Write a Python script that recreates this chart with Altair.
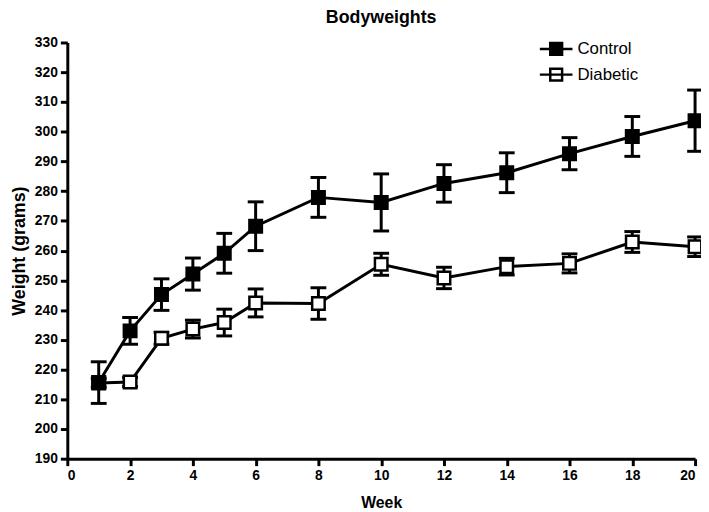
import altair as alt
import pandas as pd

weeks = [1, 2, 3, 4, 5, 6, 8, 10, 12, 14, 16, 18, 20]
control = [215.6, 233.0, 245.2, 252.1, 259.1, 268.2, 277.9, 276.2, 282.6, 286.2, 292.6, 298.4, 303.7]
control_err = [7.0, 4.5, 5.3, 5.4, 6.7, 8.2, 6.7, 9.6, 6.3, 6.7, 5.4, 6.7, 10.3]
diabetic = [215.5, 215.8, 230.5, 233.6, 235.8, 242.4, 242.2, 255.4, 250.8, 254.6, 255.7, 262.9, 261.3]
diabetic_err = [1.5, 1.5, 2.0, 3.0, 4.5, 4.7, 5.3, 3.7, 3.6, 2.8, 3.2, 3.5, 3.3]
groups = ["Control", "Diabetic"]
x_ticks = list(range(0, 21, 2))
y_ticks = list(range(190, 331, 10))

rows = []
for g, vals, errs in [("Diabetic", diabetic, diabetic_err), ("Control", control, control_err)]:
    for w, v, e in zip(weeks, vals, errs):
        rows.append({"week": w, "weight": v, "lo": v - e, "hi": v + e, "group": g})
df = pd.DataFrame(rows)

FONT = "Liberation Sans"

x_scale = alt.Scale(domain=[0, 20], nice=False)
y_scale = alt.Scale(domain=[190, 330], nice=False, zero=False)
x_axis = alt.Axis(values=x_ticks, labelOverlap=False)
y_axis = alt.Axis(values=y_ticks, labelOverlap=False)

x = alt.X("week:Q", title="Week", scale=x_scale, axis=x_axis)
y = alt.Y("weight:Q", title="Weight (grams)", scale=y_scale, axis=y_axis)
y_lo = alt.Y("lo:Q", title="Weight (grams)", scale=y_scale, axis=y_axis)
y_hi = alt.Y("hi:Q", title="Weight (grams)", scale=y_scale, axis=y_axis)

base = alt.Chart(df)

line = base.mark_line(color="black", strokeWidth=3).encode(x=x, y=y, detail="group:N")
rule = base.mark_rule(color="black", strokeWidth=3, opacity=1).encode(x=x, y=y_lo, y2="hi:Q")
cap_lo = base.mark_tick(orient="horizontal", size=16, thickness=3, color="black", opacity=1).encode(x=x, y=y_lo)
cap_hi = base.mark_tick(orient="horizontal", size=16, thickness=3, color="black", opacity=1).encode(x=x, y=y_hi)

symbol_path = "M-1.65,0H1.65M-0.6,-0.6H0.6V0.6H-0.6Z"

points = base.mark_point(shape="square", size=160, stroke="black", strokeWidth=2.5,
                         opacity=1, fillOpacity=1).encode(
    x=x, y=y,
    fill=alt.Fill("group:N",
                  scale=alt.Scale(domain=groups, range=["black", "white"]),
                  legend=alt.Legend(title=None, orient="none", legendX=483, legendY=-5,
                                    symbolType=symbol_path, symbolSize=400,
                                    symbolStrokeColor="black", symbolStrokeWidth=2.5,
                                    labelFontSize=17, labelFont=FONT, labelColor="black",
                                    labelOffset=10, rowPadding=3, padding=0)),
)

chart = alt.layer(line, rule, cap_lo, cap_hi, points).properties(
    width=635, height=421,
    title=alt.TitleParams("Bodyweights", fontSize=18, font=FONT, fontWeight="bold",
                          color="black", offset=9, anchor="middle"),
    autosize=alt.AutoSizeParams(type="none"),
    padding={"left": 60, "top": 32, "right": 6, "bottom": 50},
).configure_view(stroke=None).configure_axis(
    grid=False, domainColor="black", domainWidth=3, tickColor="black", tickWidth=3,
    tickSize=7, labelFont=FONT, labelFontSize=14, labelFontWeight="bold", labelColor="black",
    labelPadding=3, labelBound=False,
    titleFont=FONT, titleFontWeight="bold", titleColor="black",
).configure_axisX(titlePadding=12, titleFontSize=16).configure_axisY(titlePadding=6, titleFontSize=18)

chart.save("out.html", embed_options={"renderer": "svg", "actions": False})
